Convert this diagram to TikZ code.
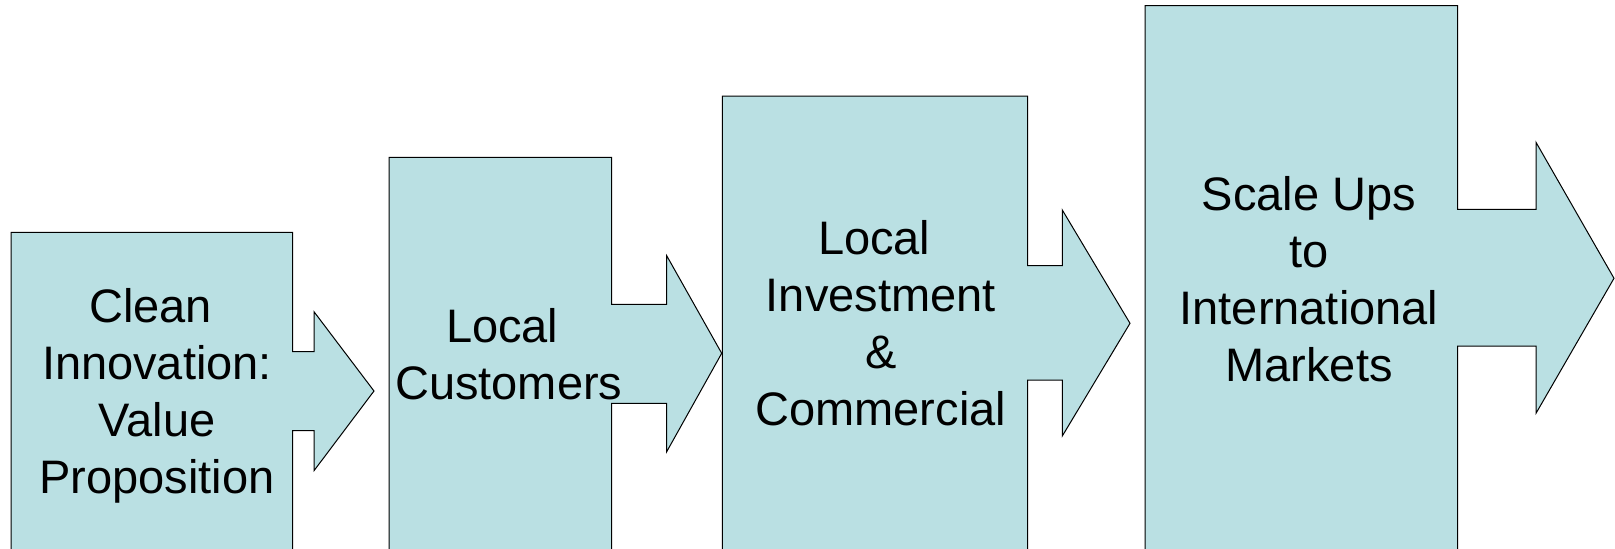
\documentclass[tikz,border=0pt]{standalone}
\usepackage{fontspec}
\setmainfont{Liberation Sans}
\definecolor{boxfill}{RGB}{186,224,227}
\newcommand{\tsp}{\hspace*{0.278em}}
\begin{document}
\begin{tikzpicture}[x=1pt,y=-1pt,
  blk/.style={draw=black,fill=boxfill,line width=1pt,line join=miter},
  lbl/.style={align=center,inner sep=0pt,font=\fontsize{47}{56.9}\selectfont}]
\useasboundingbox (0,0) rectangle (1615,549);
\clip (0,0) rectangle (1615,549);
% block 1
\draw[blk] (11,570) -- (11,232.3) -- (292.7,232.3) -- (292.7,351.7) -- (314,351.7) -- (314,311.7)
  -- (374,391) -- (314,470.7) -- (314,430.7) -- (292.7,430.7) -- (292.7,570) -- cycle;
% block 2
\draw[blk] (389,570) -- (389,157.3) -- (611.7,157.3) -- (611.7,304.3) -- (666.7,304.3) -- (666.7,255.7)
  -- (721.7,353.3) -- (666.7,451.7) -- (666.7,403.3) -- (611.7,403.3) -- (611.7,570) -- cycle;
% block 3
\draw[blk] (722.3,570) -- (722.3,96) -- (1027.7,96) -- (1027.7,265.7) -- (1062.3,265.7) -- (1062.3,210)
  -- (1130,323.3) -- (1062.3,436) -- (1062.3,380) -- (1027.7,380) -- (1027.7,570) -- cycle;
% block 4
\draw[blk] (1145,570) -- (1145,5.5) -- (1457.7,5.5) -- (1457.7,209.3) -- (1536,209.3) -- (1536,142.3)
  -- (1614,278.3) -- (1536,413.3) -- (1536,346) -- (1457.7,346) -- (1457.7,570) -- cycle;
% labels
\node[lbl] (t1) at (157,396.9) {\strut Clean\tsp\\\strut Innovation:\\\strut Value\tsp\\\strut Proposition};
\node[lbl] (t2) at (508.8,359.9) {\strut Local\tsp\\\strut Customers};
\node[lbl] (t3) at (880.8,328.6) {\strut Local\tsp\\\strut Investment\tsp\\\strut \&\tsp\\\strut Commercial};
\node[lbl] (t4) at (1309,284.5) {\strut Scale Ups\\\strut to\tsp\\\strut International\\\strut Markets};
\end{tikzpicture}
\end{document}
